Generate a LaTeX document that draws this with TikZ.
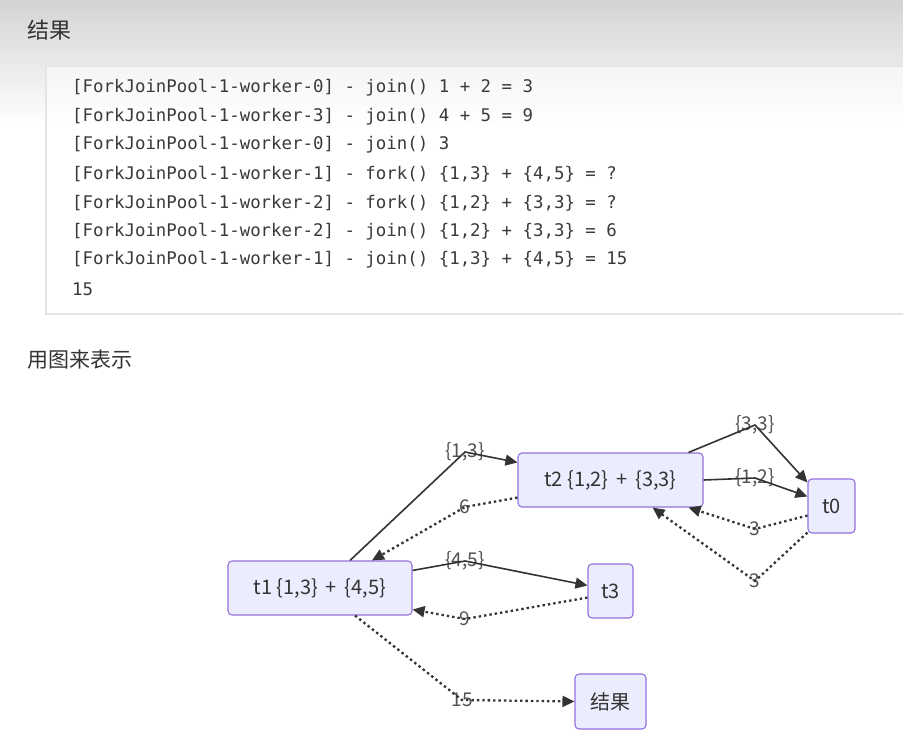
\documentclass[tikz,border=0pt]{standalone}
\usepackage{fontspec}
\setmainfont{Noto Sans CJK SC}
\newfontfamily\codefont{DejaVu Sans Mono}
\usetikzlibrary{arrows.meta}

\definecolor{taskfill}{HTML}{ECECFF}
\definecolor{taskline}{HTML}{9370DB}
\definecolor{inktext}{HTML}{333333}
\definecolor{codeink}{HTML}{3A3A3A}

\tikzset{
    task/.style={draw=taskline,fill=taskfill,rounded corners=4pt,line width=1.1pt,
        minimum height=54pt,inner sep=0pt,text=inktext,font=\fontsize{20}{24}\selectfont},
    forkline/.style={draw=black!80,line width=1.6pt,-{Triangle[length=12pt,width=11pt]}},
    joinline/.style={forkline,line width=2.3pt,dash pattern=on 2.4pt off 3pt},
    edgelbl/.style={inner sep=0pt,text=inktext!85,font=\fontsize{19}{22}\selectfont},
    codeline/.style={anchor=west,inner sep=0pt,text=codeink,font=\codefont\fontsize{17.4}{20}\selectfont},
}

\begin{document}
\begin{tikzpicture}[x=1pt,y=-1pt]

    \useasboundingbox (0,0) rectangle (903,737);
    \fill[white] (0,0) rectangle (903,737);
    \shade[top color=black!17,bottom color=white] (0,0) rectangle (903,125);

    % heading
    \node[anchor=west,inner sep=0pt,text=inktext,font=\fontsize{22}{26}\selectfont] (head) at (27,30) {结果};

    % console output
    \draw[black!10,line width=1.5pt,fill=white,fill opacity=0.55] (46,66) rectangle (910,314);
    \node[codeline] (c1) at (72,88) {[ForkJoinPool-1-worker-0] - join() 1 + 2 = 3};
    \node[codeline] (c2) at (72,117) {[ForkJoinPool-1-worker-3] - join() 4 + 5 = 9};
    \node[codeline] (c3) at (72,145) {[ForkJoinPool-1-worker-0] - join() 3};
    \node[codeline] (c4) at (72,174) {[ForkJoinPool-1-worker-1] - fork() \{1,3\} + \{4,5\} = ?};
    \node[codeline] (c5) at (72,203) {[ForkJoinPool-1-worker-2] - fork() \{1,2\} + \{3,3\} = ?};
    \node[codeline] (c6) at (72,232) {[ForkJoinPool-1-worker-2] - join() \{1,2\} + \{3,3\} = 6};
    \node[codeline] (c7) at (72,260) {[ForkJoinPool-1-worker-1] - join() \{1,3\} + \{4,5\} = 15};
    \node[codeline] (c8) at (72,289) {15};

    \node[anchor=west,inner sep=0pt,text=inktext,font=\fontsize{21}{24}\selectfont] (sub) at (27,360) {用图来表示};

    % tasks
    \node[task,minimum width=184pt] (t1) at (320,588) {t1 \{1,3\} \,+\, \{4,5\}};
    \node[task,minimum width=185pt] (t2) at (610.5,480) {t2 \{1,2\} \,+\, \{3,3\}};
    \node[task,minimum width=47pt] (t0) at (831.5,506) {t0};
    \node[task,minimum width=45pt] (t3) at (610.5,591) {t3};
    \node[task,minimum width=71pt,minimum height=55pt] (res) at (610.5,701.5) {结果};

    % edge labels
    \node[edgelbl] (l13) at (465,452) {\{1,3\}};
    \node[edgelbl] (l6) at (465,507) {6};
    \node[edgelbl] (l45) at (465,561) {\{4,5\}};
    \node[edgelbl] (l9) at (465,619) {9};
    \node[edgelbl] (l15) at (462,700) {15};
    \node[edgelbl] (l33) at (755,425) {\{3,3\}};
    \node[edgelbl] (l12) at (755,478) {\{1,2\}};
    \node[edgelbl] (l3a) at (755,529) {3};
    \node[edgelbl] (l3b) at (755,581) {3};

    % fork / join
    \draw[forkline] ([xshift=30pt]t1.north) -- (l13.center) -- ([yshift=-10pt]t2.north west);
    \draw[joinline] ([yshift=10pt]t2.south west) -- (l6.center) -- ([xshift=52pt]t1.north);
    \draw[forkline] ([yshift=-10pt]t1.north east) -- (l45.center) -- ([yshift=-22pt]t3.north west);
    \draw[joinline] ([yshift=21pt]t3.south west) -- (l9.center) -- ([yshift=6pt]t1.south east);
    \draw[joinline] ([xshift=35pt]t1.south) -- (l15.center) -- (res.west);
    \draw[forkline] ([xshift=-15pt]t2.north east) -- (l33.center) -- ([yshift=-4pt]t0.north west);
    \draw[forkline] (t2.east) -- (l12.center) -- ([yshift=-18pt]t0.north west);
    \draw[joinline] ([yshift=18pt]t0.south west) -- (l3a.center) -- ([xshift=-15pt]t2.south east);
    \draw[joinline] ([yshift=1pt]t0.south west) -- (l3b.center) -- ([xshift=-51pt]t2.south east);
  \end{tikzpicture}
\end{document}
